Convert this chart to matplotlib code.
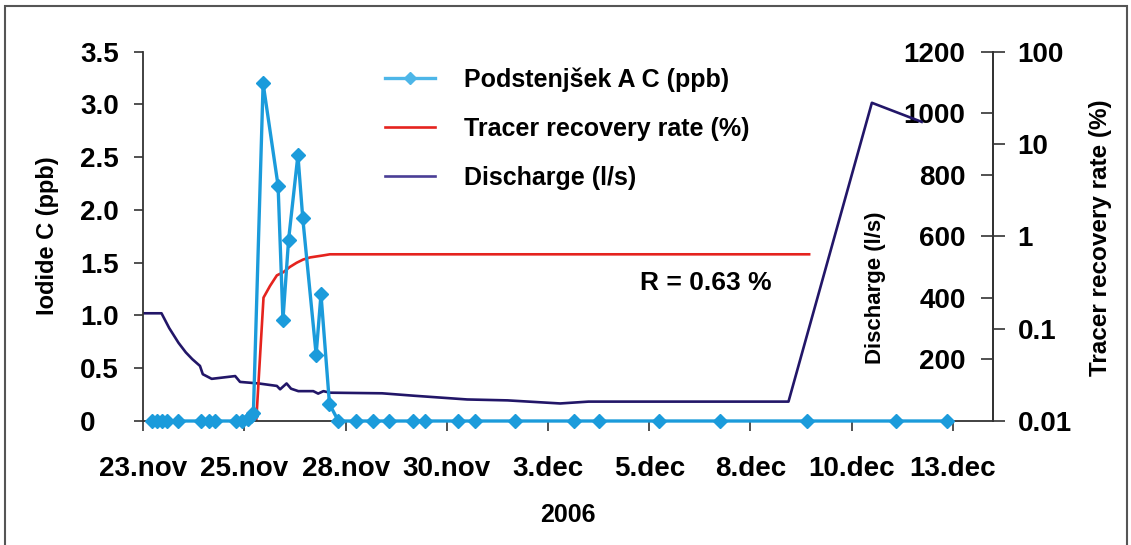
import matplotlib
matplotlib.use("Agg")
import matplotlib.pyplot as plt
from matplotlib.lines import Line2D
from matplotlib.patches import Rectangle

plt.rcParams['font.family'] = ['Liberation Sans', 'DejaVu Sans']
plt.rcParams['font.weight'] = 'bold'

# time axis: days after 23.nov 2006 00:00
iodide_days = [0.21, 0.33, 0.45, 0.58, 0.86, 1.42, 1.63, 1.77, 2.28, 2.45, 2.58, 2.66, 2.72,
               2.96, 3.33, 3.45, 3.59, 3.82, 3.94, 4.27, 4.39, 4.60, 4.82, 5.25, 5.67, 6.08,
               6.67, 6.96, 7.78, 8.20, 9.18, 10.63, 11.27, 12.75, 14.25, 16.39, 18.60, 19.85]
iodide_ppb = [0, 0, 0, 0, 0, 0, 0, 0, 0, 0, 0.02, 0.05, 0.08,
              3.2, 2.23, 0.96, 1.72, 2.52, 1.92, 0.63, 1.2, 0.16, 0, 0, 0, 0,
              0, 0, 0, 0, 0, 0, 0, 0, 0, 0, 0, 0]

recovery_days = [2.79, 2.97, 3.13, 3.30, 3.46, 3.62, 3.79, 3.95, 4.12, 4.28, 4.45, 4.61, 16.45]
recovery_pct = [0.01, 0.217, 0.29, 0.378, 0.409, 0.466, 0.518, 0.561, 0.591, 0.606, 0.622, 0.639, 0.639]

discharge_days = [0, 0.45, 0.64, 0.87, 1.05, 1.21, 1.40, 1.47, 1.69, 2.27, 2.39, 2.85, 3.30, 3.38,
                  3.54, 3.65, 3.83, 4.20, 4.32, 4.45, 4.61, 5.9, 6.7, 8.0, 9.0, 10.3, 11.0,
                  15.94, 18.0, 19.23]
discharge_ls = [350, 350, 302, 254, 223, 201, 179, 152, 137, 146, 127, 122, 114, 103,
                122, 105, 97, 97, 89, 97, 92, 90, 82, 70, 67, 57, 63,
                63, 1034, 972]

date_ticks = [0, 2.5, 5, 7.5, 10, 12.5, 15, 17.5, 20]
date_labels = ["23.nov", "25.nov", "28.nov", "30.nov", "3.dec", "5.dec", "8.dec", "10.dec", "13.dec"]
iodide_ticks = [0, 0.5, 1.0, 1.5, 2.0, 2.5, 3.0, 3.5]
iodide_labels = ["0", "0.5", "1.0", "1.5", "2.0", "2.5", "3.0", "3.5"]
discharge_ticks = [200, 400, 600, 800, 1000, 1200]
recovery_ticks = [0.01, 0.1, 1, 10, 100]
recovery_labels = ["0.01", "0.1", "1", "10", "100"]

c_iod = "#1B9BDB"
c_rec = "#E5231E"
c_dis = "#221668"
c_axis = "#333333"

W, H = 1131, 545
fig = plt.figure(figsize=(W / 100, H / 100), dpi=100)
ax = fig.add_axes([143.3 / W, 1 - 421 / H, 850 / W, 369.3 / H])
ax2 = ax.twinx()
ax3 = ax.twinx()

# discharge
ax2.plot(discharge_days, discharge_ls, color=c_dis, lw=1.9)
ax2.set_ylim(0, 1200)
ax2.set_yticks(discharge_ticks)
ax2.set_yticklabels([str(t) for t in discharge_ticks], ha="right", fontsize=20)
ax2.tick_params(axis="y", direction="in", length=8.6, width=1.2, color=c_axis, pad=-20)

# recovery rate (log)
ax3.plot(recovery_days, recovery_pct, color=c_rec, lw=1.9)
ax3.set_yscale("log")
ax3.set_ylim(0.01, 100)
ax3.set_yticks(recovery_ticks)
ax3.set_yticklabels(recovery_labels, fontsize=20)
ax3.minorticks_off()
ax3.tick_params(axis="y", which="both", direction="out", length=8.6, width=1.2, color=c_axis, pad=9)

# iodide on top
ax.set_zorder(3)
ax.patch.set_visible(False)
ax.plot(iodide_days, iodide_ppb, color=c_iod, lw=2.4, marker="D", ms=7, clip_on=False, zorder=5)
ax.set_xlim(0, 21)
ax.set_ylim(0, 3.5)
ax.set_xticks(date_ticks)
ax.set_xticklabels(date_labels, fontsize=20)
ax.set_yticks(iodide_ticks)
ax.set_yticklabels(iodide_labels, ha="left", fontsize=20)
ax.tick_params(axis="y", direction="out", length=6.5, width=1.2, color=c_axis, pad=39)
ax.tick_params(axis="x", direction="out", length=7, width=1.2, color=c_axis, pad=18)

for a in (ax, ax2, ax3):
    for s in a.spines.values():
        s.set_color(c_axis)
        s.set_linewidth(1.3)
    a.spines["top"].set_visible(False)
ax.spines["right"].set_visible(False)
for a in (ax2, ax3):
    a.spines["left"].set_visible(False)
    a.spines["bottom"].set_visible(False)

handles = [Line2D([], [], color="#4DB6E8", lw=2.4, marker="D", ms=6),
           Line2D([], [], color=c_rec, lw=1.9),
           Line2D([], [], color="#4A3E96", lw=1.9)]
labels = ["Podstenjšek A C (ppb)", "Tracer recovery rate (%)", "Discharge (l/s)"]
ax.legend(handles, labels, loc="upper left", bbox_to_anchor=(385 / W, 1 - 67 / H),
          bbox_transform=fig.transFigure, frameon=False, fontsize=18,
          handlelength=2.0, handletextpad=1.15, labelspacing=1.0, borderpad=0, borderaxespad=0)

ax.text((640 - 143.3) / 850, (421 - 283) / 369.3, "R = 0.63 %", transform=ax.transAxes,
        ha="left", va="center", fontsize=19)

fig.text(48 / W, 1 - 236 / H, "Iodide C (ppb)", rotation=90, ha="center", va="center", fontsize=17)
fig.text(875 / W, 1 - 288 / H, "Discharge (l/s)", rotation=90, ha="center", va="center", fontsize=16)
fig.text(1100 / W, 1 - 238 / H, "Tracer recovery rate (%)", rotation=90, ha="center", va="center", fontsize=17.5)
fig.text(568 / W, 1 - 515 / H, "2006", ha="center", va="center", fontsize=18)

fig.patches.append(Rectangle((5 / W, -0.05), 1122 / W, 1.05 - 6 / H, transform=fig.transFigure,
                             fill=False, edgecolor="#555555", lw=1.5))

fig.savefig("out.png", dpi=100)
